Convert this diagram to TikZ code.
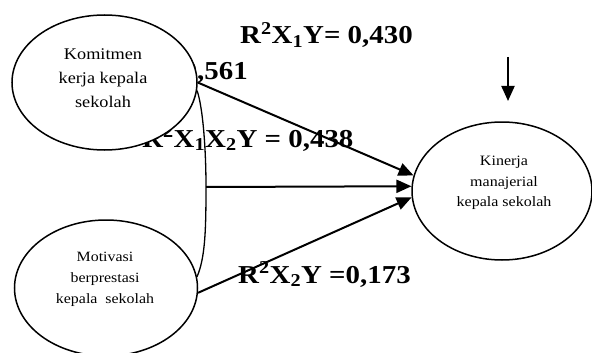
\documentclass[tikz,border=0pt]{standalone}
\usepackage{fontspec}
\setmainfont{Liberation Serif}[FakeStretch=1.12]
\usetikzlibrary{arrows.meta,calc,shapes.geometric}
\begin{document}
\begin{tikzpicture}[x=1pt,y=-1pt,
  lab/.style={font=\fontsize{25.8}{30}\selectfont\bfseries, inner sep=0pt, anchor=base west},
  var/.style={ellipse, draw, line width=1.5pt, fill=white, inner sep=0pt},
  vtext/.style={align=center, inner sep=0pt},
  path/.style={line width=2pt, -{Triangle[length=15pt,width=13pt]}},
  link/.style={line width=1.3pt}]
\useasboundingbox (0,0) rectangle (592,353);
% labels lying behind the ellipses
\node[lab] (l1) at (182.5,80) {0,561};
\node[lab] (l2) at (142,147) {R\textsuperscript{2}X\textsubscript{1}X\textsubscript{2}Y = 0,438};
% ellipses
\node[var, minimum width=185pt, minimum height=135pt] (k) at (104.5,82.5) {};
\node[var, minimum width=183pt, minimum height=136pt] (m) at (106,288) {};
\node[var, minimum width=180pt, minimum height=138pt] (kin) at (502,191) {};
\node[vtext, font=\fontsize{16.3}{24}\selectfont] (kt) at (103,78) {Komitmen\\kerja kepala\\sekolah};
\node[vtext, font=\fontsize{14.2}{21}\selectfont] (mt) at (105,279) {Motivasi\\berprestasi\\kepala\ \ sekolah};
\node[vtext, font=\fontsize{14.3}{20.5}\selectfont] (kint) at (504,183) {Kinerja\\manajerial\\kepala sekolah};
% other labels
\node[lab] (l3) at (240,44) {R\textsuperscript{2}X\textsubscript{1}Y= 0,430};
\node[lab] (l4) at (238,283) {R\textsuperscript{2}X\textsubscript{2}Y =0,173};
% connectors
\coordinate (j) at (206,187);
\draw[link] (k.-5) .. controls (203,108) and (206,150) .. (j)
  .. controls (206,232) and (205,258) .. (m.7);
\draw[path] (k.0) -- (kin.170);
\draw[path] (j) -- (kin.177);
\draw[path] (m.-3) -- (kin.184);
\coordinate (e1) at (508,57);
\coordinate (e2) at (508,101);
\draw[path] (e1) -- (e2);
\end{tikzpicture}
\end{document}
